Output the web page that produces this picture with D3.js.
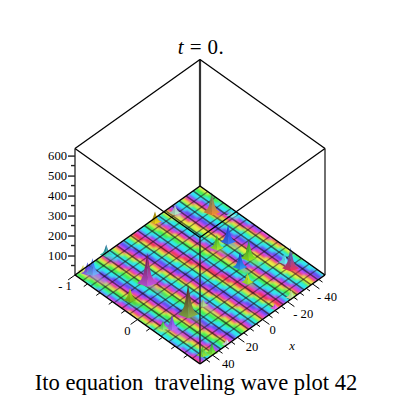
<!DOCTYPE html>
<html>
<head>
<meta charset="utf-8">
<script src="https://d3js.org/d3.v7.min.js"></script>
<style>
html, body { margin: 0; background: #fff; }
svg { display: block; }
text { font-family: "Liberation Serif", serif; fill: #000; white-space: pre; }
</style>
</head>
<body>
<svg id="chart" width="400" height="400"></svg>
<script>
// Ito equation travelling wave, 3D plot drawn in oblique projection

const titleText = 't = 0.';
const captionText = 'Ito equation  traveling wave plot 42';

// axis ticks
const zTicks = [100, 200, 300, 400, 500, 600];
const zMinorTicks = [50, 150, 250, 350, 450, 550];
const xTicks = [-40, -20, 0, 20, 40];
const xMinorTicks = [-45, -35, -30, -25, -15, -10, -5, 5, 10, 15, 25, 30, 35, 45];
const yTicks = [-1, 0];
const yMinorTicks = [-0.8, -0.6, -0.4, -0.2, 0.2, 0.4, 0.6, 0.8];

// dark mesh lines on the surface
const xMeshLines = d3.range(-50, 50.1, 100 / 18);
const yMeshLines = d3.range(-1, 1.001, 2 / 16);

// surface hues, one letter per cell, rows run from the back-left edge to the front
const hueCodes = ['G', 'Y', 'R', 'M', 'B', 'C'];
const hueColors = ['#3cf050', '#e8f040', '#f03058', '#d848e8', '#6048f4', '#28e8f0'];
const surfaceCols = 60;
const surfaceRows = [
  'GGYRMBBCCGGYRMBCCGYRMBBCCGYRRMBCCGGYRMBCCGYYRMBBCCGYRMBCCGGYRMB',
  'GGYRMBBCCGGYRMBCCGYRMBBCCGYRRMBCCGGYRMBCCGYYRMBBCCGYRMBCCGGYRMB',
  'CGGYRMBBCCGGYRMBCCGYRMBBCCGYRRMBCCGGYRMBCCGYYRMBBCCGYRMBCCGGYRMB',
  'CGGYRMBBCCGGYRMBCCGYRMBBCCGYRRMBCCGGYRMBCCGYYRMBBCCGYRMBCCGGYRMB',
  'BCGGYRMBBCCGGYRMBCCGYRMBBCCGYRRMBCCGGYRMBCCGYYRMBBCCGYRMBCCGGYRMB',
  'BCGGYRMBBCCGGYRMBCCGYRMBBCCGYRRMBCCGGYRMBCCGYYRMBBCCGYRMBCCGGYRMB',
  'MBCGGYRMBBCCGGYRMBCCGYRMBBCCGYRRMBCCGGYRMBCCGYYRMBBCCGYRMBCCGGYRMB',
  'MBCGGYRMBBCCGGYRMBCCGYRMBBCCGYRRMBCCGGYRMBCCGYYRMBBCCGYRMBCCGGYRMB',
  'RMBCGGYRMBBCCGGYRMBCCGYRMBBCCGYRRMBCCGGYRMBCCGYYRMBBCCGYRMBCCGGYRMB',
  'RMBCGGYRMBBCCGGYRMBCCGYRMBBCCGYRRMBCCGGYRMBCCGYYRMBBCCGYRMBCCGGYRMB',
  'YRMBCGGYRMBBCCGGYRMBCCGYRMBBCCGYRRMBCCGGYRMBCCGYYRMBBCCGYRMBCCGGYRMB',
  'YRMBCGGYRMBBCCGGYRMBCCGYRMBBCCGYRRMBCCGGYRMBCCGYYRMBBCCGYRMBCCGGYRMB',
  'GYRMBCGGYRMBBCCGGYRMBCCGYRMBBCCGYRRMBCCGGYRMBCCGYYRMBBCCGYRMBCCGGYRMB',
  'GYRMBCGGYRMBBCCGGYRMBCCGYRMBBCCGYRRMBCCGGYRMBCCGYYRMBBCCGYRMBCCGGYRMB',
  'CGYRMBCGGYRMBBCCGGYRMBCCGYRMBBCCGYRRMBCCGGYRMBCCGYYRMBBCCGYRMBCCGGYRMB',
  'CGYRMBCGGYRMBBCCGGYRMBCCGYRMBBCCGYRRMBCCGGYRMBCCGYYRMBBCCGYRMBCCGGYRMB',
  'CCGYRMBCGGYRMBBCCGGYRMBCCGYRMBBCCGYRRMBCCGGYRMBCCGYYRMBBCCGYRMBCCGGYRMB',
  'CCGYRMBCGGYRMBBCCGGYRMBCCGYRMBBCCGYRRMBCCGGYRMBCCGYYRMBBCCGYRMBCCGGYRMB',
  'BCCGYRMBCGGYRMBBCCGGYRMBCCGYRMBBCCGYRRMBCCGGYRMBCCGYYRMBBCCGYRMBCCGGYRMB',
  'BCCGYRMBCGGYRMBBCCGGYRMBCCGYRMBBCCGYRRMBCCGGYRMBCCGYYRMBBCCGYRMBCCGGYRMB',
  'MBCCGYRMBCGGYRMBBCCGGYRMBCCGYRMBBCCGYRRMBCCGGYRMBCCGYYRMBBCCGYRMBCCGGYRMB',
  'MBCCGYRMBCGGYRMBBCCGGYRMBCCGYRMBBCCGYRRMBCCGGYRMBCCGYYRMBBCCGYRMBCCGGYRMB',
  'RMBCCGYRMBCGGYRMBBCCGGYRMBCCGYRMBBCCGYRRMBCCGGYRMBCCGYYRMBBCCGYRMBCCGGYRMB',
  'RMBCCGYRMBCGGYRMBBCCGGYRMBCCGYRMBBCCGYRRMBCCGGYRMBCCGYYRMBBCCGYRMBCCGGYRMB'
];

// wave peaks
const peakX = [-25, -46, -12, -40, -41, -30, -29, -22, -20.5, -40, -15, -24, 26, -11.5, 44.5, 44, 42, 25.7, 42, 15.7, 27, 41, 44.6, 28, 39, 44];
const peakY = [-0.9, -0.42, -0.96, -0.61, 0.53, -0.15, 0.2, -0.17, 0.23, 0.65, 0.46, 0.98, -0.98, 0.97, -0.98, -0.92, -0.88, -0.33, -0.28, 0.36, 0.35, 0.37, 0.3, 0.99, 0.97, 0.92];
const peakZ = [40, 25, 50, 100, 45, 85, 90, 65, 75, 105, 45, 35, 50, 20, 30, 55, 75, 150, 60, 30, 150, 65, 35, 25, 50, 45];
const peakTop = ['#b8a8e0', '#80e0e0', '#a08a10', '#4f9078', '#50e0f0', '#2038e0', '#18a838', '#28b028', '#1830c8', '#1870d8', '#f0e810', '#c0e8a0', '#146098', '#e040f0', '#e8e860', '#3038e0', '#2850f8', '#701838', '#d0d010', '#90b090', '#581828', '#6838e8', '#28c838', '#e0d8f0', '#18b838', '#48b028'];
const peakBase = ['#b0f0c0', '#90f0e8', '#f8d818', '#f88830', '#70f0f8', '#3878f8', '#98e820', '#a8f030', '#30a0f8', '#f83058', '#98e830', '#e0f0b0', '#50f0c0', '#f880f8', '#e8f880', '#a878f8', '#78b8f8', '#c858e8', '#68b820', '#b8e890', '#88b848', '#b878f8', '#98f880', '#f0f0f8', '#98f840', '#a0f040'];
// how far each peak's crest trails toward the front edge, in y units
const peakTail = [0.15, 0.1, 0.12, 0.2, 0.1, 0.2, 0.25, 0.2, 0.2, 0.2, 0.15, 0, 0.2, 0, 0.1, 0.3, 0.35, 0.3, 0.2, 0.3, 0.3, 0.3, 0.1, 0, 0, 0];

// projection: u runs from the front-left edge inward, v from the back-left edge forward
const uScale = d3.scaleLinear().domain([50, -50]).range([0, 1]);
const vScale = d3.scaleLinear().domain([-1, 1]).range([0, 1]);
const screenX = d3.scaleLinear().domain([0, 2]).range([75, 325]);
const screenY = d3.scaleLinear().domain([-1, 1]).range([186, 364]);
const zScale = d3.scaleLinear().domain([0, 633]).range([275.5, 149]);

function project(x, y, z = 0) {
    const u = uScale(x), v = vScale(y);
    return [screenX(u + v), screenY(v - u) - (zScale(0) - zScale(z))];
}

const svg = d3.select('#chart');
const defs = svg.append('defs');
const line = d3.line();

// box corners
const topZ = zScale.domain()[1];
const corners = {
    left: [50, -1], front: [50, 1], right: [-50, 1], back: [-50, -1]
};
const edge = (a, b, z) => line([project(...corners[a], z), project(...corners[b], z)]);
const riser = (a) => line([project(...corners[a], 0), project(...corners[a], topZ)]);

defs.append('clipPath').attr('id', 'floor-clip')
    .append('path')
    .attr('d', line(['left', 'front', 'right', 'back'].map(c => project(...corners[c]))) + 'Z');

const soft = (id, amount) => defs.append('filter').attr('id', id)
    .attr('x', -0.2).attr('y', -0.2).attr('width', 1.4).attr('height', 1.4)
    .append('feGaussianBlur').attr('stdDeviation', amount);
soft('soft', 0.8);
soft('softer', 1.3);

// back of the box, behind the surface
const backLines = svg.append('g').attr('fill', 'none');
backLines.append('path').attr('d', riser('back')).attr('stroke', '#333').attr('stroke-width', 2.2);
backLines.append('path').attr('d', riser('left')).attr('stroke', '#333').attr('stroke-width', 1.4);
backLines.append('path').attr('d', riser('right')).attr('stroke', '#333').attr('stroke-width', 1.4);
backLines.append('path').attr('d', edge('left', 'back', topZ)).attr('stroke', '#000').attr('stroke-width', 1.3);
backLines.append('path').attr('d', edge('back', 'right', topZ)).attr('stroke', '#000').attr('stroke-width', 1.3);

// surface cells
const nRows = surfaceRows.length;
const cellY = d3.scaleLinear().domain([0, nRows]).range([-1, 1]);
const cellX = d3.scaleLinear().domain([0, surfaceCols]).range([50, -50]);
const hue = d3.scaleOrdinal().domain(hueCodes).range(hueColors);

const cells = [];
surfaceRows.forEach((row, i) => {
    row.slice(0, surfaceCols).split('').forEach((code, j) => cells.push({ i, j, code }));
});

const surface = svg.append('g').attr('clip-path', 'url(#floor-clip)');
surface.append('g').attr('filter', 'url(#soft)')
    .selectAll('path')
    .data(cells)
    .enter()
    .append('path')
    .attr('d', d => line([
        project(cellX(d.j), cellY(d.i)),
        project(cellX(d.j + 1), cellY(d.i)),
        project(cellX(d.j + 1), cellY(d.i + 1)),
        project(cellX(d.j), cellY(d.i + 1))
    ]) + 'Z')
    .attr('fill', d => hue(d.code))
    .attr('stroke', d => hue(d.code))
    .attr('stroke-width', 0.6);

// mesh
const mesh = surface.append('g').attr('fill', 'none').attr('stroke', '#201018');
mesh.selectAll('.x-line')
    .data(xMeshLines)
    .enter()
    .append('path')
    .attr('class', 'x-line')
    .attr('d', x => line([project(x, -1), project(x, 1)]))
    .attr('stroke-width', 1.5)
    .attr('stroke-opacity', 0.6);
mesh.selectAll('.y-line')
    .data(yMeshLines)
    .enter()
    .append('path')
    .attr('class', 'y-line')
    .attr('d', y => line([project(-50, y), project(50, y)]))
    .attr('stroke-width', 1.3)
    .attr('stroke-opacity', 0.5);

// peaks, ordered back to front
const peaks = peakX.map((x, k) => ({
    x, y: peakY[k], z: peakZ[k], top: peakTop[k], base: peakBase[k], tail: peakTail[k], k
}));
peaks.sort((a, b) => project(a.x, a.y)[1] - project(b.x, b.y)[1]);

peaks.forEach(p => {
    const grad = defs.append('linearGradient')
        .attr('id', `peak-${p.k}`)
        .attr('x1', 0).attr('y1', 0).attr('x2', 0).attr('y2', 1);
    grad.append('stop').attr('offset', '0%').attr('stop-color', p.top);
    grad.append('stop').attr('offset', '100%').attr('stop-color', p.base);
});

// pale crests trailing from the peaks
surface.append('g').attr('filter', 'url(#softer)')
    .selectAll('path')
    .data(peaks.filter(p => p.tail > 0))
    .enter()
    .append('path')
    .attr('d', p => line([
        project(p.x + 2, p.y),
        project(p.x, p.y + p.tail),
        project(p.x - 2, p.y)
    ]) + 'Z')
    .attr('fill', p => p.base)
    .attr('fill-opacity', 0.55);

// spread of the flank in data units (moves sideways on screen), with height fraction
const flank = [[1, 0], [0.6, 0.12], [0.38, 0.3], [0.2, 0.6], [0, 1]];
const peakLayer = svg.append('g');
peaks.forEach(p => {
    const spread = 1.9 + p.z / 70;
    const side = (sign) => flank.map(([s, f]) =>
        project(p.x - sign * s * spread, p.y + sign * s * spread / 50, p.z * f));
    const foot = project(p.x + spread * 0.5, p.y + spread * 0.5 / 50);
    const left = line([...side(-1), foot]) + 'Z';
    const right = line([...side(1), foot]) + 'Z';
    peakLayer.append('path').attr('d', left).attr('fill', `url(#peak-${p.k})`);
    peakLayer.append('path').attr('d', right).attr('fill', `url(#peak-${p.k})`);
    peakLayer.append('path').attr('d', left).attr('fill', '#000').attr('fill-opacity', 0.12);
});

// front of the box and axis edges
const frontLines = svg.append('g').attr('fill', 'none');
frontLines.append('path').attr('d', riser('front')).attr('stroke', '#222').attr('stroke-width', 1.8).attr('stroke-opacity', 0.75);
frontLines.append('path').attr('d', edge('left', 'front', topZ)).attr('stroke', '#000').attr('stroke-width', 1.3);
frontLines.append('path').attr('d', edge('front', 'right', topZ)).attr('stroke', '#000').attr('stroke-width', 1.3);
frontLines.append('path').attr('d', edge('left', 'back', 0)).attr('stroke', '#000').attr('stroke-width', 1.4);
frontLines.append('path').attr('d', edge('back', 'right', 0)).attr('stroke', '#000').attr('stroke-width', 1.4);
frontLines.append('path').attr('d', edge('left', 'front', 0)).attr('stroke', '#000').attr('stroke-width', 1.4);
frontLines.append('path').attr('d', edge('front', 'right', 0)).attr('stroke', '#000').attr('stroke-width', 1.4);

// z axis
const zAxis = d3.axisLeft(zScale)
    .tickValues(zTicks)
    .tickSize(7)
    .tickPadding(1)
    .tickFormat(d3.format('d'));
const zGroup = svg.append('g').attr('transform', `translate(${screenX(0)},0)`).call(zAxis);
zGroup.select('.domain').remove();
zGroup.selectAll('.tick line').attr('stroke', '#222').attr('stroke-width', 1.4);
zGroup.selectAll('.tick text').style('font-family', '"Liberation Serif", serif').style('font-size', '12.6px');
zGroup.selectAll('.minor')
    .data(zMinorTicks)
    .enter()
    .append('line')
    .attr('class', 'minor')
    .attr('x1', -4).attr('x2', 0)
    .attr('y1', d => zScale(d)).attr('y2', d => zScale(d))
    .attr('stroke', '#222').attr('stroke-width', 1.4);

// y axis along the left-front edge, ticks pointing away from the box
const yAxis = svg.append('g').attr('stroke', '#000').attr('stroke-width', 1);
yAxis.selectAll('line')
    .data([...yTicks.map(v => ({ v, len: 5.5 })), ...yMinorTicks.map(v => ({ v, len: 3 }))])
    .enter()
    .append('line')
    .attr('x1', d => project(50, d.v)[0]).attr('y1', d => project(50, d.v)[1])
    .attr('x2', d => project(50 + d.len, d.v)[0]).attr('y2', d => project(50 + d.len, d.v)[1]);

// x axis along the front-right edge
const xAxis = svg.append('g').attr('stroke', '#000').attr('stroke-width', 1);
xAxis.selectAll('line')
    .data([...xTicks.map(v => ({ v, len: 0.11 })), ...xMinorTicks.map(v => ({ v, len: 0.06 }))])
    .enter()
    .append('line')
    .attr('x1', d => project(d.v, 1)[0]).attr('y1', d => project(d.v, 1)[1])
    .attr('x2', d => project(d.v, 1 + d.len)[0]).attr('y2', d => project(d.v, 1 + d.len)[1]);

// tick labels, hyphen and gap as Maple prints them
const tickLabel = v => (v < 0 ? '- ' + Math.abs(v) : String(v));
const xLabelDx = d3.scaleLinear().domain([-40, 40]).range([4.5, 9.5]);
const xLabelDy = d3.scaleLinear().domain([-40, 40]).range([17, 12.5]);
svg.append('g').selectAll('text')
    .data(xTicks)
    .enter()
    .append('text')
    .attr('x', v => project(v, 1)[0] + xLabelDx(v))
    .attr('y', v => project(v, 1)[1] + xLabelDy(v))
    .attr('font-size', 12.6)
    .text(tickLabel);
svg.append('g').selectAll('text')
    .data(yTicks)
    .enter()
    .append('text')
    .attr('x', v => project(50, v)[0] - 10)
    .attr('y', v => project(50, v)[1] + 15)
    .attr('font-size', 12.6)
    .attr('text-anchor', 'middle')
    .text(tickLabel);

svg.append('text')
    .attr('x', 292).attr('y', 350)
    .attr('font-size', 12.6).attr('font-style', 'italic')
    .attr('text-anchor', 'middle')
    .text('x');

// title with italic t
const title = svg.append('text')
    .attr('x', 201).attr('y', 54)
    .attr('font-size', 21)
    .attr('letter-spacing', 0.4)
    .attr('text-anchor', 'middle');
title.append('tspan').attr('font-style', 'italic').text(titleText.slice(0, 1));
title.append('tspan').text(titleText.slice(1));

svg.append('text')
    .attr('x', 196).attr('y', 390)
    .attr('font-size', 22.6)
    .attr('text-anchor', 'middle')
    .text(captionText);
</script>
</body>
</html>
